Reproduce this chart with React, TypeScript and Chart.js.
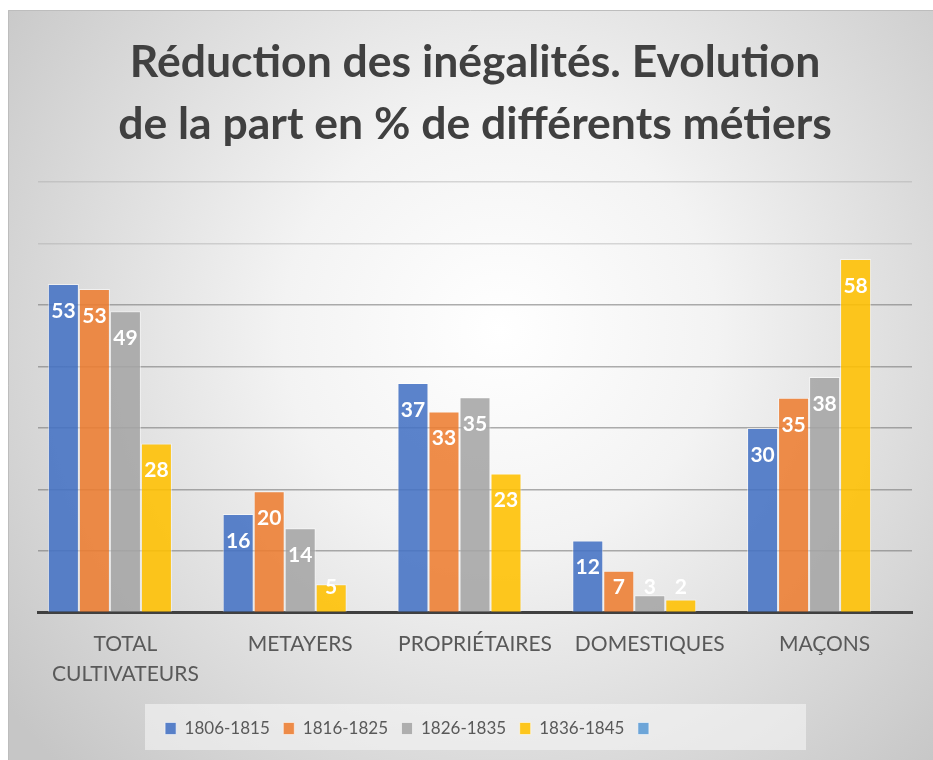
import React, { useEffect, useRef } from "react";
import { Chart, registerables } from "chart.js";

Chart.register(...registerables);

const TITLE_LINES = ["Réduction des inégalités. Evolution", "de la part en % de différents métiers"];
const CATEGORIES: (string | string[])[] = [["TOTAL", "CULTIVATEURS"], "METAYERS", "PROPRIÉTAIRES", "DOMESTIQUES", "MAÇONS"];
const SERIES_NAMES = ["1806-1815", "1816-1825", "1826-1835", "1836-1845", "\u2003".repeat(10)];
const S1806 = [53.4, 16.0, 37.3, 11.7, 30.0];
const S1816 = [52.6, 19.7, 32.7, 6.8, 34.9];
const S1826 = [49.0, 13.7, 35.0, 2.8, 38.3];
const S1836 = [27.5, 4.6, 22.6, 2.1, 57.5];
const S_EMPTY: (number | null)[] = [null, null, null, null, null];
const COLORS = ["rgba(68,114,196,0.88)", "rgba(237,125,49,0.88)", "rgba(165,165,165,0.88)", "rgba(255,192,0,0.88)", "rgba(91,155,213,0.88)"];
const Y_MAX = 70;
const Y_STEP = 10;

const FONT = "Lato, 'Open Sans', sans-serif";

const bgPlugin = {
  id: "bgPlugin",
  beforeDraw(chart: any) {
    const { ctx, width, height } = chart;
    ctx.save();
    ctx.fillStyle = "#ffffff";
    ctx.fillRect(0, 0, width, height);
    const g = ctx.createRadialGradient(500, 330, 0, 500, 330, 620);
    g.addColorStop(0, "#ffffff");
    g.addColorStop(0.35, "#f3f3f3");
    g.addColorStop(1, "#c6c6c6");
    ctx.fillStyle = g;
    ctx.fillRect(8, 10, width - 8, height - 10);
    ctx.strokeStyle = "#bdbdbd";
    ctx.lineWidth = 1;
    ctx.beginPath();
    ctx.moveTo(8.5, height);
    ctx.lineTo(8.5, 10.5);
    ctx.lineTo(width, 10.5);
    ctx.stroke();
    // legend background box
    ctx.fillStyle = "rgba(245,245,245,0.6)";
    ctx.fillRect(145, 704, 661, 46);
    ctx.restore();
  },
};

const labelPlugin = {
  id: "labelPlugin",
  afterDatasetsDraw(chart: any) {
    const { ctx } = chart;
    ctx.save();
    ctx.font = `bold 21px ${FONT}`;
    ctx.fillStyle = "#ffffff";
    ctx.textAlign = "center";
    ctx.textBaseline = "middle";
    chart.data.datasets.forEach((ds: any, di: number) => {
      const meta = chart.getDatasetMeta(di);
      meta.data.forEach((el: any, i: number) => {
        const v = ds.data[i];
        if (v === null || v === undefined) return;
        const y = Math.min(el.y + 27, el.base - 25);
        ctx.fillText(String(Math.round(v)), el.x, y);
      });
    });
    ctx.restore();
  },
};

export default function App() {
  const ref = useRef<HTMLCanvasElement>(null);
  useEffect(() => {
    document.body.style.margin = "0";
    const data = [S1806, S1816, S1826, S1836, S_EMPTY];
    const chart = new Chart(ref.current as HTMLCanvasElement, {
      type: "bar",
      data: {
        labels: CATEGORIES,
        datasets: data.map((d, i) => ({
          label: SERIES_NAMES[i],
          data: d,
          backgroundColor: COLORS[i],
          borderColor: "rgba(255,255,255,0.55)",
          borderWidth: 1,
          barPercentage: 1,
          categoryPercentage: 0.887,
        })),
      },
      options: {
        animation: false,
        responsive: false,
        maintainAspectRatio: false,
        layout: { padding: { left: 38, right: 21, top: 0, bottom: 13 } },
        plugins: {
          title: {
            display: true,
            text: TITLE_LINES,
            color: "#404040",
            font: { family: FONT, size: 44.5, weight: "bold", lineHeight: 62 / 44.5 },
            padding: { top: 32, bottom: 26 },
          },
          legend: {
            display: true,
            position: "bottom",
            labels: {
              boxWidth: 11,
              boxHeight: 12,
              padding: 13.5,
              color: "#595959",
              font: { family: FONT, size: 17 },
            },
          },
          tooltip: { enabled: false },
        },
        scales: {
          x: {
            grid: { display: false, drawTicks: false },
            border: { display: true, color: "#404040", width: 3 },
            ticks: {
              color: "#595959",
              font: { family: FONT, size: 21, lineHeight: 30 / 21 },
              padding: 17,
              maxRotation: 0,
              autoSkip: false,
            },
            afterFit: (s: any) => {
              s.height = 94;
            },
          },
          y: {
            min: 0,
            max: Y_MAX,
            ticks: { display: false, stepSize: Y_STEP },
            grid: {
              drawTicks: false,
              lineWidth: 1.5,
              color: (c: any) => (c.tick && c.tick.value >= 60 ? "rgba(170,170,170,0.45)" : "rgba(120,120,120,0.6)"),
            },
            border: { display: false },
            afterFit: (s: any) => {
              s.width = 0;
            },
          },
        },
      },
      plugins: [bgPlugin, labelPlugin],
    });
    return () => chart.destroy();
  }, []);
  return <canvas ref={ref} width={933} height={760} style={{ display: "block" }} />;
}
